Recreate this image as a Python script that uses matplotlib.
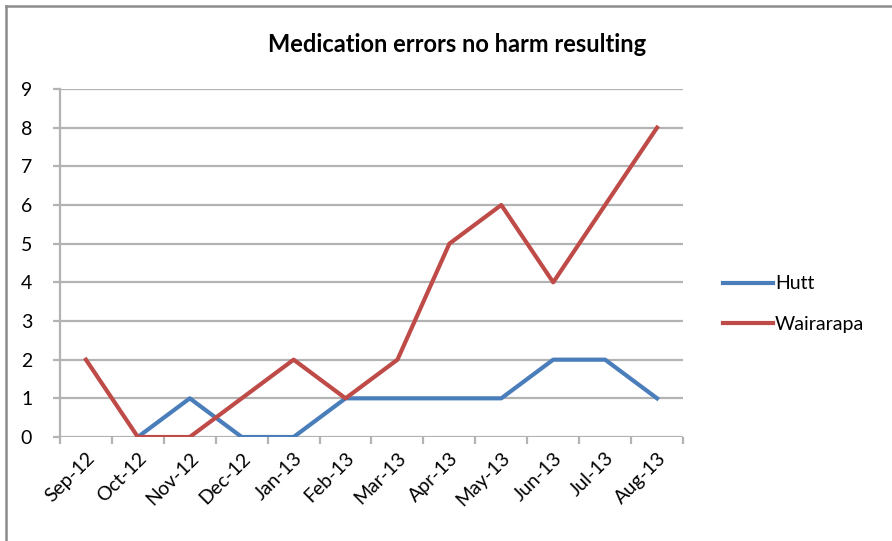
import matplotlib
matplotlib.use("Agg")
import matplotlib.pyplot as plt
import numpy as np
from matplotlib.lines import Line2D

months = ["Sep-12", "Oct-12", "Nov-12", "Dec-12", "Jan-13", "Feb-13",
          "Mar-13", "Apr-13", "May-13", "Jun-13", "Jul-13", "Aug-13"]
hutt = [np.nan, 0, 1, 0, 0, 1, 1, 1, 1, 2, 2, 1]
wairarapa = [2, 0, 0, 1, 2, 1, 2, 5, 6, 4, 6, 8]
yticks = list(range(0, 10))

plt.rcParams['font.family'] = ['Lato', 'DejaVu Sans']

W, H = 892, 541
fig = plt.figure(figsize=(W / 100, H / 100), dpi=100)
fig.patch.set_facecolor("white")

# frame edges along the left and top of the chart area
fig.add_artist(Line2D([6 / W, 6 / W], [0, 1 - 6 / H], transform=fig.transFigure,
                      color="#8c8c8c", linewidth=1.8))
fig.add_artist(Line2D([6 / W, 1], [1 - 6 / H, 1 - 6 / H], transform=fig.transFigure,
                      color="#8c8c8c", linewidth=1.8))

ax = fig.add_axes([60 / W, 1 - 437 / H, (683 - 60) / W, (437 - 89) / H])
x = np.arange(len(months))

blue = "#4A7EBB"
red = "#BE4B48"
grid_c = "#B3B3B3"

for y in yticks:
    ax.axhline(y, color=grid_c, linewidth=1.6, zorder=1)

ax.plot(x, hutt, color=blue, linewidth=3.0, zorder=3, solid_joinstyle="round")
ax.plot(x, wairarapa, color=red, linewidth=3.0, zorder=4, solid_joinstyle="round")

ax.set_xlim(-0.5, len(months) - 0.5)
ax.set_ylim(0, 9)
ax.set_yticks(yticks)
ax.set_yticklabels([str(v) for v in yticks], fontsize=14)

ax.set_xticks(x)
ax.set_xticklabels(months, rotation=45, ha="right", rotation_mode="anchor", fontsize=14)
ax.tick_params(axis="x", which="major", length=0, pad=9)
ax.set_xticks(np.arange(-0.5, len(months)), minor=True)
ax.tick_params(axis="x", which="minor", length=5, color=grid_c, width=1.6, direction="out")
ax.tick_params(axis="y", length=5, color=grid_c, width=1.6, direction="out", pad=15)

for s in ["top", "right", "bottom"]:
    ax.spines[s].set_visible(False)
ax.spines["left"].set_color(grid_c)
ax.spines["left"].set_linewidth(1.6)

fig.text(457 / W, 1 - 45 / H, "Medication errors no harm resulting",
         ha="center", va="center", fontsize=17, fontweight="bold")

handles = [Line2D([], [], color=blue, linewidth=3.0),
           Line2D([], [], color=red, linewidth=3.0)]
fig.legend(handles, ["Hutt", "Wairarapa"], loc="center left",
           bbox_to_anchor=(705 / W, 1 - 304 / H), frameon=False, fontsize=14,
           handlelength=2.6, handletextpad=0.1, labelspacing=1.2)

fig.savefig("out.png", dpi=100)
